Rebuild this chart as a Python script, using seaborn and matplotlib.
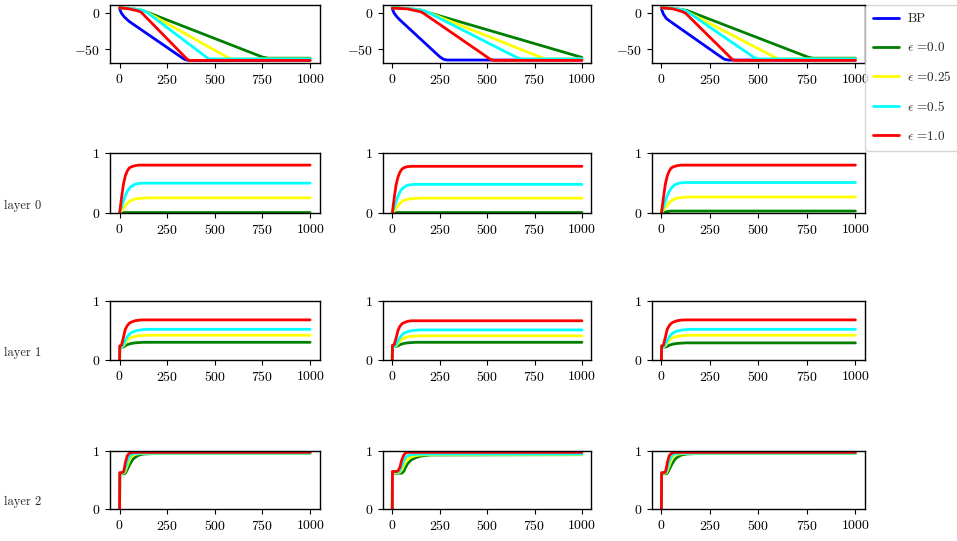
import matplotlib
matplotlib.use('Agg')
import matplotlib.pyplot as plt
import seaborn as sns
import pandas as pd

# --- series names and colours ---
series_names = ['BP', '0.0', '0.25', '0.5', '1.0']
series_labels = ['BP', r'$\epsilon$ =0.0', r'$\epsilon$ =0.25', r'$\epsilon$ =0.5', r'$\epsilon$ =1.0']
series_colors = {'BP': 'blue', '0.0': 'green', '0.25': 'yellow', '0.5': 'cyan', '1.0': 'red'}
row_labels = ['', 'layer 0', 'layer 1', 'layer 2']

# --- top row: (x, y) points, one dict per column ---
loss_col1 = {
    'BP':   ([0, 10, 25, 50, 320, 340, 360, 1000], [5, -1, -6, -12, -60, -63.5, -65, -65]),
    '0.0':  ([0, 60, 120, 140, 750, 780, 1000], [6.5, 5.5, 3, 1, -60.5, -62, -62]),
    '0.25': ([0, 60, 120, 140, 570, 590, 1000], [6.5, 5.5, 3, 1, -61.5, -63, -63]),
    '0.5':  ([0, 60, 120, 140, 460, 475, 1000], [6.5, 5.5, 3, 1, -61.5, -63, -63]),
    '1.0':  ([0, 50, 100, 115, 355, 365, 1000], [6.5, 5, 2, 0, -63.5, -65, -65]),
}
loss_col2 = {
    'BP':   ([0, 10, 25, 40, 250, 270, 290, 1000], [5, -1, -6, -10, -60, -63.5, -64.5, -64.5]),
    '0.0':  ([0, 80, 160, 190, 1000], [6.5, 5.5, 3, 0, -61]),
    '0.25': ([0, 80, 160, 190, 790, 810, 1000], [6.5, 5.5, 3, 0, -61.5, -63, -63]),
    '0.5':  ([0, 80, 160, 190, 660, 680, 1000], [6.5, 5.5, 3, 0, -61.5, -63, -63]),
    '1.0':  ([0, 80, 150, 165, 520, 535, 1000], [6, 5, 1, -1, -64, -65, -65]),
}
loss_col3 = {
    'BP':   ([0, 10, 25, 40, 305, 325, 345, 1000], [5, -2, -8, -11, -60, -63.5, -64.5, -64.5]),
    '0.0':  ([0, 70, 130, 150, 755, 780, 1000], [6.5, 5.5, 3, 1, -60.5, -62, -62]),
    '0.25': ([0, 70, 120, 140, 590, 610, 1000], [6.5, 5.5, 3, 0, -61.5, -63, -63]),
    '0.5':  ([0, 70, 120, 140, 480, 500, 1000], [6.5, 5.5, 3, 0, -61.5, -63, -63]),
    '1.0':  ([0, 60, 110, 125, 365, 375, 1000], [6.5, 5, 1, -1, -63.5, -65, -65]),
}

# --- layer 0 ---
layer0_x = [0, 10, 20, 30, 40, 50, 60, 80, 100, 125, 150, 200, 1000]
layer0_col1 = {
    '0.0':  [0, 0.005, 0.008, 0.01, 0.01, 0.01, 0.01, 0.01, 0.01, 0.01, 0.01, 0.01, 0.01],
    '0.25': [0, 0.04, 0.08, 0.12, 0.16, 0.19, 0.21, 0.235, 0.245, 0.25, 0.255, 0.255, 0.255],
    '0.5':  [0, 0.1, 0.2, 0.29, 0.36, 0.41, 0.44, 0.48, 0.495, 0.5, 0.5, 0.5, 0.5],
    '1.0':  [0, 0.25, 0.48, 0.62, 0.7, 0.75, 0.77, 0.79, 0.8, 0.8, 0.8, 0.8, 0.8],
}
layer0_col2 = {
    '0.0':  [0, 0.005, 0.008, 0.01, 0.01, 0.01, 0.01, 0.01, 0.01, 0.01, 0.01, 0.01, 0.01],
    '0.25': [0, 0.04, 0.08, 0.12, 0.16, 0.19, 0.21, 0.23, 0.24, 0.245, 0.25, 0.25, 0.25],
    '0.5':  [0, 0.1, 0.19, 0.28, 0.35, 0.4, 0.43, 0.465, 0.475, 0.48, 0.48, 0.48, 0.48],
    '1.0':  [0, 0.25, 0.47, 0.6, 0.68, 0.73, 0.755, 0.775, 0.78, 0.78, 0.78, 0.78, 0.78],
}
layer0_col3 = {
    '0.0':  [0, 0.01, 0.02, 0.025, 0.03, 0.035, 0.035, 0.035, 0.035, 0.035, 0.035, 0.035, 0.035],
    '0.25': [0, 0.05, 0.09, 0.13, 0.17, 0.2, 0.225, 0.25, 0.26, 0.265, 0.27, 0.27, 0.27],
    '0.5':  [0, 0.1, 0.2, 0.29, 0.36, 0.41, 0.45, 0.49, 0.505, 0.51, 0.51, 0.51, 0.51],
    '1.0':  [0, 0.25, 0.48, 0.62, 0.7, 0.75, 0.77, 0.79, 0.8, 0.8, 0.8, 0.8, 0.8],
}

# --- layer 1 ---
layer1_x = [0, 1, 10, 20, 30, 40, 50, 60, 80, 100, 125, 150, 200, 1000]
layer1_col1 = {
    '0.0':  [0, 0.22, 0.22, 0.22, 0.24, 0.26, 0.27, 0.28, 0.29, 0.295, 0.3, 0.3, 0.3, 0.3],
    '0.25': [0, 0.22, 0.22, 0.24, 0.29, 0.33, 0.36, 0.38, 0.4, 0.41, 0.415, 0.42, 0.42, 0.42],
    '0.5':  [0, 0.22, 0.22, 0.26, 0.33, 0.39, 0.43, 0.46, 0.49, 0.505, 0.515, 0.52, 0.52, 0.52],
    '1.0':  [0, 0.24, 0.25, 0.38, 0.52, 0.58, 0.62, 0.64, 0.665, 0.675, 0.68, 0.68, 0.68, 0.68],
}
layer1_col2 = {
    '0.0':  [0, 0.23, 0.23, 0.23, 0.24, 0.26, 0.27, 0.28, 0.29, 0.295, 0.3, 0.3, 0.3, 0.3],
    '0.25': [0, 0.23, 0.23, 0.24, 0.28, 0.32, 0.35, 0.37, 0.39, 0.4, 0.405, 0.41, 0.41, 0.41],
    '0.5':  [0, 0.23, 0.23, 0.26, 0.32, 0.38, 0.42, 0.45, 0.48, 0.495, 0.505, 0.51, 0.51, 0.51],
    '1.0':  [0, 0.25, 0.26, 0.37, 0.5, 0.57, 0.61, 0.63, 0.655, 0.665, 0.665, 0.665, 0.665, 0.665],
}
layer1_col3 = {
    '0.0':  [0, 0.22, 0.22, 0.22, 0.23, 0.25, 0.26, 0.27, 0.28, 0.285, 0.29, 0.29, 0.29, 0.29],
    '0.25': [0, 0.22, 0.22, 0.24, 0.29, 0.33, 0.36, 0.38, 0.4, 0.41, 0.415, 0.42, 0.42, 0.42],
    '0.5':  [0, 0.22, 0.22, 0.26, 0.33, 0.39, 0.43, 0.46, 0.49, 0.505, 0.515, 0.52, 0.52, 0.52],
    '1.0':  [0, 0.24, 0.25, 0.38, 0.52, 0.58, 0.62, 0.64, 0.665, 0.675, 0.68, 0.68, 0.68, 0.68],
}

# --- layer 2 ---
layer2_x = [0, 1, 10, 20, 25, 30, 40, 50, 60, 70, 80, 100, 125, 150, 200, 1000]
layer2_col1 = {
    '0.0':  [0, 0.61, 0.61, 0.61, 0.61, 0.62, 0.68, 0.75, 0.81, 0.86, 0.89, 0.93, 0.95, 0.955, 0.96, 0.96],
    '0.25': [0, 0.62, 0.62, 0.62, 0.63, 0.66, 0.75, 0.84, 0.9, 0.93, 0.945, 0.955, 0.96, 0.96, 0.96, 0.96],
    '0.5':  [0, 0.62, 0.62, 0.63, 0.65, 0.7, 0.82, 0.9, 0.94, 0.955, 0.96, 0.965, 0.965, 0.965, 0.965, 0.965],
    '1.0':  [0, 0.63, 0.63, 0.64, 0.7, 0.8, 0.92, 0.96, 0.975, 0.98, 0.98, 0.98, 0.98, 0.98, 0.98, 0.98],
}
layer2_col2 = {
    '0.0':  [0, 0.62, 0.62, 0.62, 0.62, 0.62, 0.62, 0.62, 0.65, 0.72, 0.78, 0.85, 0.89, 0.915, 0.935, 0.94],
    '0.25': [0, 0.63, 0.63, 0.63, 0.63, 0.63, 0.64, 0.68, 0.75, 0.82, 0.86, 0.9, 0.925, 0.935, 0.94, 0.94],
    '0.5':  [0, 0.64, 0.64, 0.64, 0.64, 0.64, 0.66, 0.74, 0.83, 0.89, 0.92, 0.94, 0.95, 0.95, 0.95, 0.95],
    '1.0':  [0, 0.65, 0.65, 0.65, 0.65, 0.66, 0.72, 0.85, 0.93, 0.97, 0.98, 0.98, 0.98, 0.98, 0.98, 0.98],
}
layer2_col3 = {
    '0.0':  [0, 0.61, 0.61, 0.61, 0.61, 0.62, 0.68, 0.75, 0.81, 0.86, 0.89, 0.93, 0.95, 0.955, 0.96, 0.96],
    '0.25': [0, 0.62, 0.62, 0.62, 0.63, 0.66, 0.75, 0.84, 0.9, 0.93, 0.945, 0.955, 0.96, 0.96, 0.96, 0.96],
    '0.5':  [0, 0.62, 0.62, 0.63, 0.65, 0.7, 0.82, 0.9, 0.94, 0.955, 0.96, 0.965, 0.965, 0.965, 0.965, 0.965],
    '1.0':  [0, 0.63, 0.63, 0.64, 0.7, 0.8, 0.92, 0.96, 0.975, 0.98, 0.98, 0.98, 0.98, 0.98, 0.98, 0.98],
}

xticks = [0, 250, 500, 750, 1000]

# --- style ---
sns.set_style('ticks')
plt.rcParams['font.family'] = 'serif'
plt.rcParams['font.serif'] = ['cmr10', 'DejaVu Serif']
plt.rcParams['mathtext.fontset'] = 'cm'
plt.rcParams['axes.formatter.use_mathtext'] = True
plt.rcParams['axes.unicode_minus'] = True
plt.rcParams['axes.edgecolor'] = 'black'
plt.rcParams['xtick.color'] = 'black'
plt.rcParams['ytick.color'] = 'black'
plt.rcParams['font.size'] = 10


def to_long(col_data, shared_x=None):
    rows = []
    for name in series_names:
        if name not in col_data:
            continue
        if shared_x is None:
            xs, ys = col_data[name]
        else:
            xs, ys = shared_x, col_data[name]
        for xv, yv in zip(xs, ys):
            rows.append({'step': xv, 'value': yv, 'series': name})
    return pd.DataFrame(rows)


grid = [
    [(loss_col1, None), (loss_col2, None), (loss_col3, None)],
    [(layer0_col1, layer0_x), (layer0_col2, layer0_x), (layer0_col3, layer0_x)],
    [(layer1_col1, layer1_x), (layer1_col2, layer1_x), (layer1_col3, layer1_x)],
    [(layer2_col1, layer2_x), (layer2_col2, layer2_x), (layer2_col3, layer2_x)],
]

fig = plt.figure(figsize=(9.57, 5.41), dpi=100)

col_left = [0.115, 0.400, 0.681]
col_width = [0.219, 0.218, 0.223]
row_bottom = [0.8835, 0.606, 0.3346, 0.059]
row_height = [0.107, 0.111, 0.109, 0.107]

axes = []
for r in range(4):
    row_axes = []
    for c in range(3):
        ax = fig.add_axes([col_left[c], row_bottom[r], col_width[c], row_height[r]])
        col_data, shared_x = grid[r][c]
        df = to_long(col_data, shared_x)
        order = [n for n in series_names if n in col_data]
        sns.lineplot(data=df, x='step', y='value', hue='series', hue_order=order,
                     palette=series_colors, linewidth=2, legend=False,
                     errorbar=None, ax=ax)
        ax.set_xticks(xticks)
        ax.set_xlabel('')
        ax.set_ylabel('')
        if r == 0:
            ax.set_yticks([0, -50])
        else:
            ax.set_ylim(0, 1)
            ax.set_yticks([0, 1])
        for sp in ax.spines.values():
            sp.set_linewidth(1.0)
        row_axes.append(ax)
    axes.append(row_axes)

# row labels on the left
for r in range(1, 4):
    pos = axes[r][0].get_position()
    fig.text(0.004, pos.y0 + 0.013, row_labels[r], ha='left', va='center', fontsize=9)

# legend next to top-right panel
top_right = axes[0][2]
handles = top_right.get_lines()[:5]
top_right.legend(handles, series_labels, loc='upper left', bbox_to_anchor=(1.0, 1.0),
                 borderaxespad=0, borderpad=0.6, labelspacing=1.2, fontsize=9.5,
                 handlelength=2.0, handletextpad=0.6)

plt.savefig('out.png', dpi=100)
